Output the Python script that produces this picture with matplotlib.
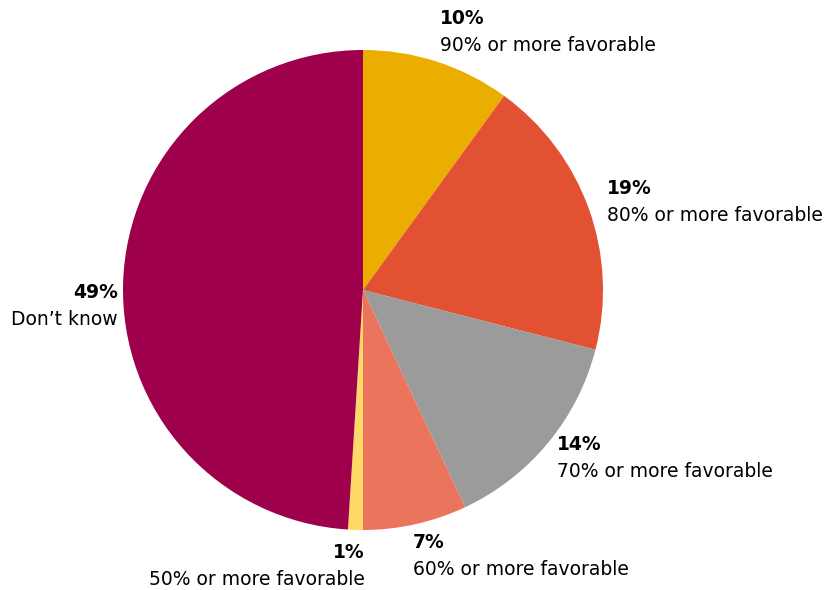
import matplotlib.pyplot as plt

plt.rcParams['font.family'] = ['DejaVu Sans']

labels = ['90% or more favorable', '80% or more favorable', '70% or more favorable',
          '60% or more favorable', '50% or more favorable', 'Don\u2019t know']
values = [10, 19, 14, 7, 1, 49]
colors = ['#EBAE00', '#E35133', '#9B9B9B', '#EB745D', '#FFD966', '#9E004B']

# label anchor (x, y of bold line top) in pixel coords, and alignment
label_pos = [(440, 9, 'left'), (607, 179, 'left'), (557, 435, 'left'),
             (413, 533, 'left'), (365, 543, 'right'), (118, 283, 'right')]

fig = plt.figure(figsize=(8.25, 5.9), dpi=100)
ax = fig.add_axes([0, 0, 1, 1])

# y axis is inverted, so counterclock=True draws clockwise on screen
ax.pie(values, colors=colors, startangle=-90, counterclock=True,
       center=(363, 290), radius=240, frame=True,
       wedgeprops=dict(linewidth=0))
ax.set_xlim(0, 825)
ax.set_ylim(590, 0)
ax.set_aspect('equal')
ax.axis('off')

for lab, val, (x, y, ha) in zip(labels, values, label_pos):
    ax.text(x, y, f'{val}%', fontsize=13.5, fontweight='bold', ha=ha, va='top')
    ax.text(x, y + 27, lab, fontsize=13.5, ha=ha, va='top')

fig.savefig('out.png', dpi=100)
